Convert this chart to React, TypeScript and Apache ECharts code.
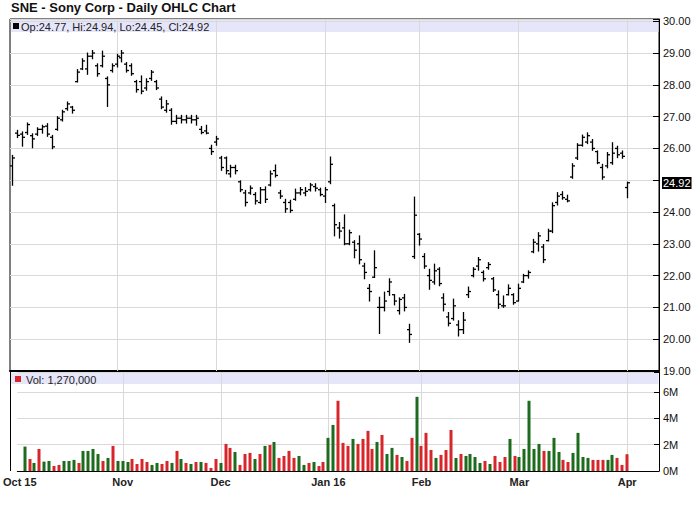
import React, { useEffect, useRef } from 'react';
import * as echarts from 'echarts';

const FONT = 'Arial, "Liberation Sans", sans-serif';

const octDays = [2, 5, 6, 7, 8, 9, 12, 13, 14, 15, 16, 19, 20, 21, 22, 23, 26, 27, 28, 29, 30];
const novDays = [2, 3, 4, 5, 6, 9, 10, 11, 12, 13, 16, 17, 18, 19, 20, 23, 24, 25, 27, 30];
const decDays = [1, 2, 3, 4, 7, 8, 9, 10, 11, 14, 15, 16, 17, 18, 21, 22, 23, 24, 28, 29, 30, 31];
const janDays = [4, 5, 6, 7, 8, 11, 12, 13, 14, 15, 19, 20, 21, 22, 25, 26, 27, 28, 29];
const febDays = [1, 2, 3, 4, 5, 8, 9, 10, 11, 12, 16, 17, 18, 19, 22, 23, 24, 25, 26, 29];
const marDays = [1, 2, 3, 4, 7, 8, 9, 10, 11, 14, 15, 16, 17, 18, 21, 22, 23, 24, 28, 29, 30, 31];
const aprDays = [1];
const monthKeys = ['2015-10', '2015-11', '2015-12', '2016-01', '2016-02', '2016-03', '2016-04'];
const monthTickLabels = ['Oct 15', 'Nov', 'Dec', 'Jan 16', 'Feb', 'Mar', 'Apr'];

const opens = [25.45, 26.48, 26.45, 26.50, 26.40, 26.45, 26.60, 26.70, 26.35, 26.60,
  26.90, 27.25, 27.30, 28.10, 28.50, 28.50, 28.90, 28.60, 28.60, 28.20,
  28.45, 28.65, 28.85, 28.65, 28.60, 28.10, 28.10, 27.90, 28.20, 28.10,
  27.55, 27.20, 27.20, 26.85, 26.95, 26.90, 26.95, 26.90, 26.60, 26.55,
  26.00, 26.20, 25.70, 25.70, 25.20, 25.40, 24.95, 24.60, 24.60, 24.55,
  24.30, 24.70, 24.85, 25.30, 24.60, 24.30, 24.30, 24.40, 24.60, 24.60,
  24.70, 24.80, 24.70, 24.50, 24.95, 24.20, 23.50, 23.50, 23.00, 23.05,
  23.00, 22.30, 21.60, 21.95, 21.00, 21.00, 21.50, 21.40, 20.90, 21.30,
  20.30, 22.60, 23.30, 22.60, 22.00, 21.80, 22.20, 21.30, 20.70, 20.65,
  20.45, 20.30, 21.40, 22.00, 22.30, 22.10, 22.25, 21.90, 21.40, 21.05,
  21.40, 21.40, 21.20, 21.80, 22.00, 22.75, 23.00, 22.90, 23.10, 23.40,
  24.30, 24.55, 24.40, 25.10, 25.70, 26.10, 26.20, 26.20, 25.90, 25.40,
  25.45, 25.55, 26.00, 25.85, 24.77];

const highs = [25.78, 26.57, 26.52, 26.80, 26.46, 26.65, 26.73, 26.78, 26.41, 27.00,
  27.20, 27.46, 27.32, 28.48, 28.82, 29.00, 29.08, 28.66, 29.06, 28.25,
  28.66, 28.96, 29.08, 28.70, 28.66, 28.14, 28.28, 28.19, 28.45, 28.14,
  27.62, 27.51, 27.25, 27.04, 27.04, 27.04, 27.04, 27.04, 26.69, 26.73,
  26.10, 26.38, 25.75, 25.73, 25.47, 25.47, 24.98, 24.68, 24.82, 24.61,
  24.77, 24.79, 25.29, 25.48, 24.68, 24.40, 24.37, 24.72, 24.77, 24.77,
  24.90, 24.89, 24.75, 24.77, 25.73, 24.25, 23.67, 23.91, 23.43, 23.10,
  23.25, 22.39, 21.72, 22.78, 21.32, 21.48, 21.90, 21.40, 21.30, 21.41,
  20.47, 24.47, 23.32, 22.69, 22.20, 22.36, 22.25, 21.43, 20.84, 21.26,
  20.58, 20.84, 21.64, 22.25, 22.57, 22.15, 22.41, 21.94, 21.52, 21.36,
  21.71, 21.43, 21.73, 22.04, 22.15, 23.14, 23.35, 22.98, 23.46, 24.29,
  24.61, 24.64, 24.53, 25.52, 26.15, 26.42, 26.49, 26.28, 25.92, 25.50,
  25.87, 26.18, 26.07, 25.92, 24.94];

const lows = [24.84, 26.34, 26.07, 26.44, 26.02, 26.41, 26.48, 26.38, 25.99, 26.57,
  26.86, 27.20, 27.11, 28.09, 28.48, 28.33, 28.82, 28.27, 28.56, 27.32,
  28.40, 28.56, 28.72, 28.40, 28.30, 27.77, 27.72, 27.83, 28.14, 27.85,
  27.25, 27.14, 26.76, 26.78, 26.80, 26.80, 26.80, 26.73, 26.46, 26.46,
  25.81, 26.10, 25.31, 25.20, 25.10, 25.20, 24.64, 24.19, 24.56, 24.25,
  24.27, 24.30, 24.82, 25.10, 24.43, 23.99, 23.99, 24.37, 24.54, 24.51,
  24.66, 24.66, 24.51, 24.30, 24.89, 23.25, 23.18, 22.97, 22.97, 22.56,
  22.37, 21.90, 21.20, 21.94, 20.18, 20.89, 21.38, 21.08, 20.79, 20.89,
  19.90, 22.54, 22.96, 22.23, 21.57, 21.73, 21.68, 20.89, 20.42, 20.60,
  20.10, 20.18, 21.31, 21.96, 22.17, 21.83, 22.20, 21.50, 20.97, 21.00,
  21.39, 21.10, 21.20, 21.78, 21.92, 22.72, 22.77, 22.41, 23.09, 23.35,
  24.22, 24.40, 24.32, 25.06, 25.65, 26.07, 26.15, 25.94, 25.52, 25.03,
  25.39, 25.50, 25.71, 25.69, 24.45];

const closes = [25.70, 26.41, 26.35, 26.75, 26.30, 26.60, 26.68, 26.45, 26.05, 26.95,
  27.15, 27.40, 27.20, 28.40, 28.75, 28.90, 29.00, 28.35, 28.90, 28.00,
  28.60, 28.90, 29.00, 28.45, 28.35, 27.85, 27.80, 28.10, 28.40, 27.90,
  27.30, 27.40, 26.85, 26.95, 26.90, 26.95, 26.90, 26.95, 26.50, 26.48,
  25.90, 26.30, 25.40, 25.30, 25.40, 25.30, 24.70, 24.30, 24.75, 24.35,
  24.70, 24.40, 25.20, 25.15, 24.50, 24.10, 24.05, 24.60, 24.70, 24.65,
  24.85, 24.75, 24.55, 24.70, 25.50, 23.60, 23.40, 23.00, 23.35, 22.80,
  22.50, 22.10, 21.50, 22.25, 21.00, 21.20, 21.80, 21.20, 21.25, 21.00,
  20.15, 23.90, 23.15, 22.30, 21.85, 22.15, 21.75, 21.10, 20.50, 21.05,
  20.30, 20.60, 21.50, 22.20, 22.50, 21.90, 22.35, 21.55, 21.10, 21.05,
  21.60, 21.15, 21.60, 22.00, 22.10, 23.05, 23.25, 22.50, 23.40, 24.20,
  24.50, 24.45, 24.35, 25.45, 26.10, 26.35, 26.40, 26.00, 25.55, 25.10,
  25.80, 25.85, 25.80, 25.75, 24.92];

const volumes = [null, 1.85, 0.91, 0.61, 1.67, 0.71, 0.76, 0.38, 0.46, 0.76,
  0.76, 0.84, 0.61, 1.52, 1.52, 1.67, 1.29, 0.76, 0.99, 1.90,
  0.76, 0.76, 0.68, 0.91, 0.53, 0.91, 0.68, 0.46, 0.61, 0.53,
  0.76, 0.61, 1.52, 0.91, 0.61, 0.53, 0.68, 0.68, 0.61, 0.23,
  0.91, 0.61, 2.05, 1.75, 1.44, 0.46, 1.29, 1.37, 0.91, 1.29,
  1.90, 1.97, 2.20, 0.99, 1.14, 1.52, 0.99, 1.14, 0.46, 0.61,
  0.68, 0.38, 0.68, 2.51, 3.49, 5.32, 2.13, 1.90, 2.43, 2.05,
  2.43, 3.04, 1.67, 2.20, 2.73, 1.29, 1.75, 1.22, 1.06, 0.76,
  2.51, 5.62, 1.90, 2.89, 1.59, 0.99, 1.22, 1.59, 3.11, 0.99,
  1.29, 1.14, 1.29, 1.06, 0.61, 0.76, 0.53, 1.14, 0.68, 1.06,
  2.43, 1.14, 1.06, 1.67, 5.32, 1.67, 2.05, 1.52, 1.52, 2.51,
  1.44, 0.84, 0.68, 1.37, 2.89, 1.06, 0.99, 0.84, 0.84, 0.84,
  0.84, 1.22, 0.99, 0.46, 1.27];

const priceTicks = [19, 20, 21, 22, 23, 24, 26, 27, 28, 29, 30];
const volumeTicks = [0, 2, 4, 6];
const lastClose = 24.92;

const TITLE = 'SNE - Sony Corp - Daily OHLC Chart';
const PRICE_LEGEND = 'Op:24.77, Hi:24.94, Lo:24.45, Cl:24.92';
const VOL_LEGEND = 'Vol: 1,270,000';

const UP = '#1d6b1d';
const DOWN = '#d6262b';
const GRID = '#d9d9d9';
const BAND = '#e6e6fa';
const PAD = 6;

function buildCategories() {
  const monthDays = [octDays, novDays, decDays, janDays, febDays, marDays, aprDays];
  const cats: string[] = [];
  const starts: number[] = [];
  monthDays.forEach((days, m) => {
    starts.push(cats.length);
    days.forEach((d) => cats.push(`${monthKeys[m]}-${String(d).padStart(2, '0')}`));
  });
  for (let k = 0; k < PAD; k++) cats.push(`pad${k}`);
  return { cats, starts };
}

function monthGridSeries(axisIdx: number, starts: number[]) {
  return {
    type: 'custom', xAxisIndex: axisIdx, yAxisIndex: axisIdx, z: 1, silent: true,
    data: starts.filter((s) => s > 0).map((s) => [s, 0]),
    encode: { x: 0, y: 1 },
    renderItem: (params: any, api: any) => {
      const cs = params.coordSys;
      const x = Math.round(api.coord([api.value(0), 0])[0]) + 0.5;
      return {
        type: 'line',
        shape: { x1: x, y1: cs.y, x2: x, y2: cs.y + cs.height },
        style: { stroke: GRID, lineWidth: 1 },
      };
    },
  };
}

export default function App() {
  const ref = useRef<HTMLDivElement>(null);
  useEffect(() => {
    document.body.style.margin = '0';
    if (!ref.current) return;
    const chart = echarts.init(ref.current, null, { renderer: 'svg' });
    const { cats, starts } = buildCategories();
    const labelAt: Record<number, string> = {};
    starts.forEach((s, k) => { labelAt[s] = monthTickLabels[k]; });

    const ohlc = opens.map((o, i) => [i, o, highs[i], lows[i], closes[i]]);
    const volData: any[] = [];
    volumes.forEach((v, i) => {
      if (v == null) return;
      const up = i === 0 || closes[i] >= closes[i - 1];
      volData.push([i, v, up ? 1 : 0]);
    });

    chart.setOption({
      animation: false,
      backgroundColor: '#fff',
      title: {
        text: TITLE,
        left: 11,
        top: 1,
        padding: 0,
        textStyle: { fontFamily: FONT, fontSize: 13, fontWeight: 'bold', color: '#111' },
      },
      grid: [
        { left: 10, top: 19, width: 649, height: 352, show: true, borderColor: '#000', borderWidth: 1 },
        { left: 10, top: 372, width: 649, height: 99, show: false },
      ],
      xAxis: [
        {
          type: 'category', gridIndex: 0, data: cats, boundaryGap: true,
          axisLine: { show: true, lineStyle: { color: '#000', width: 2 } },
          axisTick: { show: false }, axisLabel: { show: false }, splitLine: { show: false },
        },
        {
          type: 'category', gridIndex: 1, data: cats, boundaryGap: true,
          axisLine: { show: true, lineStyle: { color: '#000', width: 1 } },
          axisTick: { show: false },
          splitLine: { show: false },
          axisLabel: {
            interval: (idx: number) => labelAt[idx] !== undefined,
            formatter: (_v: string, idx: number) => labelAt[idx] ?? '',
            fontFamily: FONT, fontSize: 11, fontWeight: 'bold', color: '#222', margin: 5,
          },
        },
      ],
      yAxis: [
        {
          type: 'value', gridIndex: 0, position: 'right', min: 19, max: 30.07, interval: 1,
          axisLine: { show: true, lineStyle: { color: '#000' } },
          axisTick: { show: true, inside: true, length: 6, lineStyle: { color: '#000' } },
          splitLine: { show: true, lineStyle: { color: GRID } },
          axisLabel: {
            fontFamily: FONT, fontSize: 11, color: '#111', margin: 4,
            formatter: (v: number) => (priceTicks.includes(Math.round(v * 100) / 100) ? v.toFixed(2) : ''),
          },
        },
        {
          type: 'value', gridIndex: 1, position: 'right', min: 0, max: 7.5, interval: 2,
          axisLine: { show: true, lineStyle: { color: '#000' } },
          axisTick: { show: true, inside: true, length: 5, lineStyle: { color: '#000' } },
          splitLine: { show: true, lineStyle: { color: GRID } },
          axisLabel: {
            fontFamily: FONT, fontSize: 11, color: '#111', margin: 4,
            formatter: (v: number) => (volumeTicks.includes(v) ? `${v}M` : ''),
          },
        },
      ],
      series: [
        monthGridSeries(0, starts),
        monthGridSeries(1, starts),
        {
          type: 'custom', xAxisIndex: 1, yAxisIndex: 1, z: 3,
          data: volData,
          encode: { x: 0, y: 1 },
          renderItem: (_p: any, api: any) => {
            const idx = api.value(0);
            const top = api.coord([idx, api.value(1)]);
            const base = api.coord([idx, 0]);
            const x = Math.round(top[0]) - 1.5;
            return {
              type: 'rect',
              shape: { x, y: top[1], width: 3, height: base[1] - top[1] },
              style: { fill: api.value(2) ? UP : DOWN },
            };
          },
        },
        {
          type: 'custom', xAxisIndex: 0, yAxisIndex: 0, z: 4,
          encode: { x: 0, y: [1, 2, 3, 4] },
          data: ohlc,
          renderItem: (_p: any, api: any) => {
            const idx = api.value(0);
            const pO = api.coord([idx, api.value(1)]);
            const pH = api.coord([idx, api.value(2)]);
            const pL = api.coord([idx, api.value(3)]);
            const pC = api.coord([idx, api.value(4)]);
            const x = Math.round(pH[0]) + 0.5;
            const st = { stroke: '#000', lineWidth: 1.3 };
            return {
              type: 'group',
              children: [
                { type: 'line', shape: { x1: x, y1: pH[1] - 0.5, x2: x, y2: pL[1] + 0.5 }, style: st },
                { type: 'line', shape: { x1: x - 2.5, y1: pO[1], x2: x, y2: pO[1] }, style: st },
                { type: 'line', shape: { x1: x, y1: pC[1], x2: x + 2.5, y2: pC[1] }, style: st },
              ],
            };
          },
        },
        {
          type: 'custom', xAxisIndex: 0, yAxisIndex: 0, z: 10, silent: true, clip: false,
          data: [[opens.length - 1, lastClose]],
          encode: { x: 0, y: 1 },
          renderItem: (params: any, api: any) => {
            const cs = params.coordSys;
            const y = api.coord([api.value(0), api.value(1)])[1];
            return {
              type: 'text',
              x: cs.x + cs.width + 3,
              y: Math.round(y),
              style: {
                text: lastClose.toFixed(2),
                fill: '#fff',
                backgroundColor: '#000',
                padding: [1, 1, 0, 1],
                fontFamily: FONT,
                fontSize: 11,
                verticalAlign: 'middle',
                align: 'left',
              },
            };
          },
        },
      ],
      graphic: [
        { type: 'rect', z: 0, shape: { x: 11, y: 19.5, width: 647.5, height: 12.5 }, style: { fill: BAND } },
        { type: 'rect', z: 0, shape: { x: 11, y: 372.5, width: 647.5, height: 11.5 }, style: { fill: BAND } },
        { type: 'line', z: 6, shape: { x1: 10.5, y1: 372, x2: 10.5, y2: 471 }, style: { stroke: '#000', lineWidth: 1 } },
        { type: 'rect', z: 5, shape: { x: 13, y: 23, width: 6, height: 6 }, style: { fill: '#000' } },
        {
          type: 'text', z: 5, x: 21, y: 26.5,
          style: { text: PRICE_LEGEND, fontFamily: FONT, fontSize: 11, fill: '#222', verticalAlign: 'middle' },
        },
        { type: 'rect', z: 5, shape: { x: 15, y: 376, width: 6, height: 6 }, style: { fill: DOWN } },
        {
          type: 'text', z: 5, x: 26, y: 379.5,
          style: { text: VOL_LEGEND, fontFamily: FONT, fontSize: 11, fill: '#222', verticalAlign: 'middle' },
        },
      ],
    });
    return () => chart.dispose();
  }, []);
  return <div ref={ref} style={{ width: 700, height: 512, position: 'absolute', left: 0, top: 0 }} />;
}
